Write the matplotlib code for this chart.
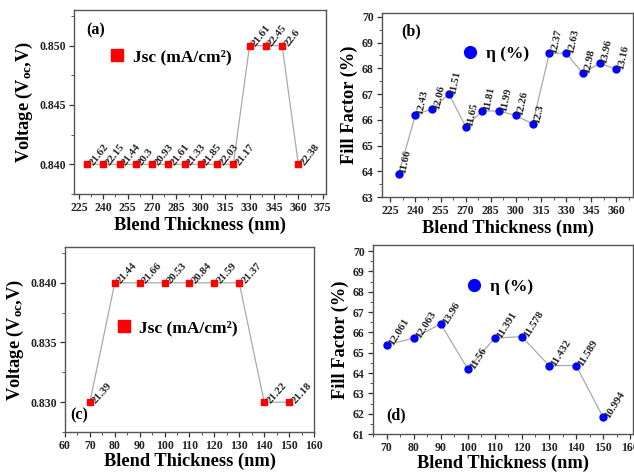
import matplotlib
matplotlib.use("Agg")
import matplotlib.pyplot as plt
from matplotlib.ticker import MultipleLocator, AutoMinorLocator

plt.rcParams['font.family'] = ['Liberation Serif', 'DejaVu Serif']
plt.rcParams['font.weight'] = 'bold'
plt.rcParams['mathtext.fontset'] = 'custom'
plt.rcParams['mathtext.rm'] = 'Liberation Serif:bold'
plt.rcParams['mathtext.bf'] = 'Liberation Serif:bold'
plt.rcParams['mathtext.it'] = 'Liberation Serif:bold'

# Panel (a)
thick_a = [230, 240, 250, 260, 270, 280, 290, 300, 310, 320, 330, 340, 350, 360]
voc_a = [0.84, 0.84, 0.84, 0.84, 0.84, 0.84, 0.84, 0.84, 0.84, 0.84, 0.85, 0.85, 0.85, 0.84]
jsc_a = ["21.62", "22.15", "21.44", "20.3", "20.93", "21.61", "21.33", "21.85", "22.03", "21.17",
         "21.61", "22.45", "22.6", "22.38"]
# Panel (b)
thick_b = [230, 240, 250, 260, 270, 280, 290, 300, 310, 320, 330, 340, 350, 360]
ff_b = [63.9, 66.2, 66.42, 67.0, 65.74, 66.35, 66.34, 66.17, 65.84, 68.59, 68.59, 67.8, 68.2, 67.97]
eta_b = ["11.66", "12.43", "12.06", "11.51", "11.65", "11.81", "11.99", "12.26", "12.3", "12.37",
         "12.63", "12.98", "13.96", "13.16"]
# Panel (c)
thick_c = [70, 80, 90, 100, 110, 120, 130, 140, 150]
voc_c = [0.83, 0.84, 0.84, 0.84, 0.84, 0.84, 0.84, 0.83, 0.83]
jsc_c = ["21.39", "21.44", "21.66", "20.53", "20.84", "21.59", "21.37", "21.22", "21.18"]
# Panel (d)
thick_d = [70, 80, 90, 100, 110, 120, 130, 140, 150]
ff_d = [65.38, 65.72, 66.42, 64.2, 65.72, 65.79, 64.37, 64.37, 61.82]
eta_d = ["12.061", "12.063", "13.96", "11.56", "11.391", "11.578", "11.432", "11.589", "10.994"]

fig = plt.figure(figsize=(6.34, 4.72), dpi=100)
ax_a = fig.add_axes([0.1167, 0.589, 0.3975, 0.3898])
ax_b = fig.add_axes([0.6025, 0.5826, 0.396, 0.3898])
ax_c = fig.add_axes([0.1025, 0.0847, 0.3927, 0.392])
ax_d = fig.add_axes([0.5883, 0.0805, 0.41, 0.4004])

lab_fs = 13.2
tick_fs = 8.5
ann_fs = 7.8


def style(ax):
    for s in ax.spines.values():
        s.set_color('#555555')
        s.set_linewidth(1.0)
    ax.tick_params(which='major', direction='out', length=3.5, width=0.9, pad=2.5,
                   labelsize=tick_fs, colors='#333333', labelcolor='#222222')
    ax.tick_params(which='minor', direction='out', length=2, width=0.7, colors='#555555')
    ax.xaxis.set_minor_locator(AutoMinorLocator(2))
    for lab in ax.get_xticklabels() + ax.get_yticklabels():
        lab.set_fontweight('bold')


def draw(ax, x, y, labels, color, marker, ms, rot, leg, legpos, dx, dy):
    ax.plot(x, y, '-', color='#aaaaaa', lw=0.9, zorder=1)
    ax.plot(x, y, linestyle='none', marker=marker, color=color, ms=ms, zorder=3,
            label=leg)
    for xi, yi, t in zip(x, y, labels):
        ax.annotate(t, (xi, yi), xytext=(dx, dy), textcoords='offset points',
                    rotation=rot, rotation_mode='anchor', ha='left', va='center',
                    fontsize=ann_fs, fontweight='bold', color='#222222')
    ax.legend(loc='center left', bbox_to_anchor=legpos, frameon=False,
              handlelength=0.6, handletextpad=0.6, markerscale=1.7,
              borderpad=0, borderaxespad=0,
              prop={'family': 'Liberation Serif', 'weight': 'bold', 'size': 12.5})


def labels(ax, ylab, xpad):
    ax.set_xlabel('Blend Thickness (nm)', fontsize=lab_fs, fontweight='bold', labelpad=xpad)
    ax.set_ylabel(ylab, fontsize=lab_fs, fontweight='bold', labelpad=3)


# (a)
draw(ax_a, thick_a, voc_a, jsc_a, '#ff0000', 's', 5, 52,
     'Jsc (mA/cm²)', (0.15, 0.745), 3, 0)
ax_a.set_xlim(222, 377)
ax_a.set_ylim(0.8375, 0.853)
ax_a.xaxis.set_major_locator(MultipleLocator(15))
ax_a.yaxis.set_major_locator(MultipleLocator(0.005))
ax_a.yaxis.set_minor_locator(AutoMinorLocator(2))
ax_a.yaxis.set_major_formatter(plt.FormatStrFormatter('%.3f'))
labels(ax_a, r'Voltage (V$_{oc}$,V)', 2)
ax_a.text(0.05, 0.89, '(a)', transform=ax_a.transAxes, fontsize=11.5, fontweight='bold',
          va='center', ha='left')
style(ax_a)

# (b)
draw(ax_b, thick_b, ff_b, eta_b, '#0000ff', 'o', 5, 78,
     'η (%)', (0.33, 0.78), 3, 0)
ax_b.set_xlim(220, 370)
ax_b.set_ylim(63, 70.15)
ax_b.xaxis.set_major_locator(MultipleLocator(15))
ax_b.yaxis.set_major_locator(MultipleLocator(1))
ax_b.yaxis.set_minor_locator(AutoMinorLocator(2))
labels(ax_b, 'Fill Factor (%)', 2)
ax_b.text(0.075, 0.9, '(b)', transform=ax_b.transAxes, fontsize=11.5, fontweight='bold',
          va='center', ha='left')
style(ax_b)

# (c)
draw(ax_c, thick_c, voc_c, jsc_c, '#ff0000', 's', 5, 48,
     'Jsc (mA/cm²)', (0.215, 0.56), 3, 0)
ax_c.set_xlim(60, 160)
ax_c.set_ylim(0.8275, 0.843)
ax_c.xaxis.set_major_locator(MultipleLocator(10))
ax_c.yaxis.set_major_locator(MultipleLocator(0.005))
ax_c.yaxis.set_minor_locator(AutoMinorLocator(2))
ax_c.yaxis.set_major_formatter(plt.FormatStrFormatter('%.3f'))
labels(ax_c, r'Voltage (V$_{oc}$,V)', 0.5)
ax_c.text(0.02, 0.09, '(c)', transform=ax_c.transAxes, fontsize=11.5, fontweight='bold',
          va='center', ha='left')
style(ax_c)

# (d)
draw(ax_d, thick_d, ff_d, eta_d, '#0000ff', 'o', 5, 58,
     'η (%)', (0.37, 0.78), 3, 0)
ax_d.set_xlim(65, 161)
ax_d.set_ylim(61, 70.3)
ax_d.xaxis.set_major_locator(MultipleLocator(10))
ax_d.yaxis.set_major_locator(MultipleLocator(1))
ax_d.yaxis.set_minor_locator(AutoMinorLocator(2))
labels(ax_d, 'Fill Factor (%)', 0.5)
ax_d.text(0.05, 0.10, '(d)', transform=ax_d.transAxes, fontsize=11.5, fontweight='bold',
          va='center', ha='left')
style(ax_d)

fig.savefig('out.png', dpi=100)
